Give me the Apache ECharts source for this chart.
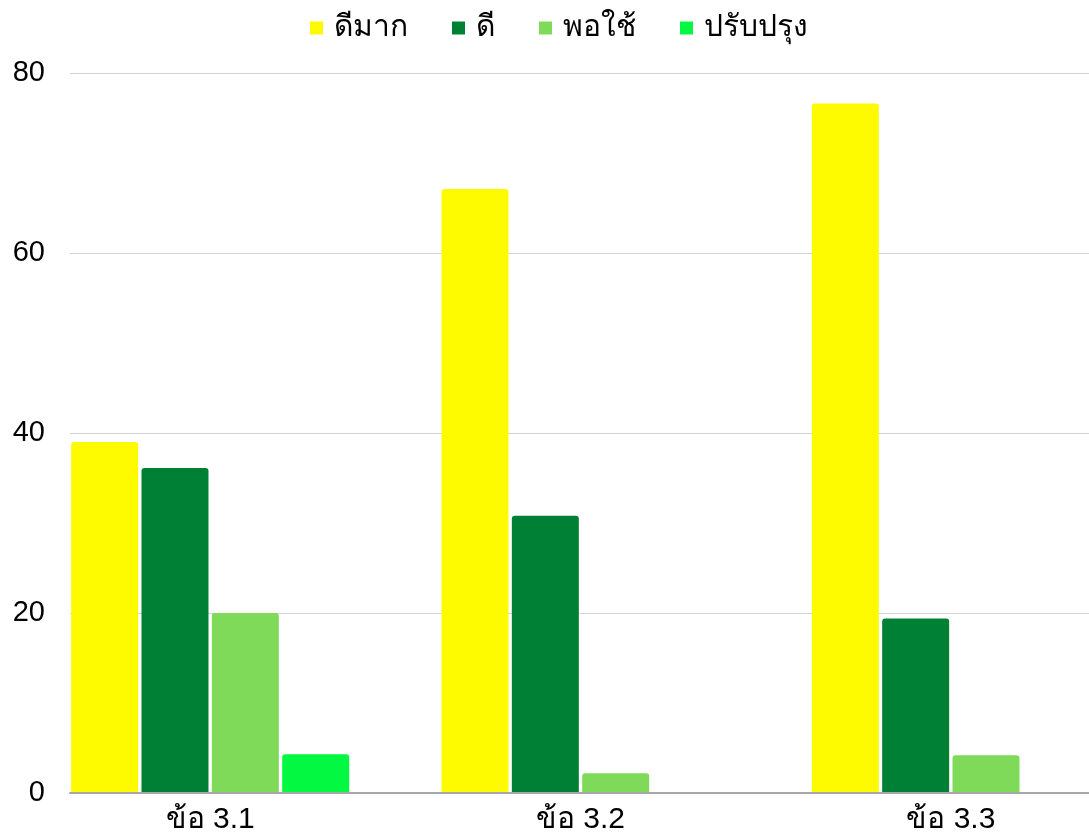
<!DOCTYPE html>
<html>
<head>
<meta charset="utf-8">
<script src="https://cdn.jsdelivr.net/npm/echarts@6/dist/echarts.min.js"></script>
<style>html,body{margin:0;padding:0;background:#fff;overflow:hidden;width:1089px;height:838px}#c{width:1136px;height:838px}</style>
</head>
<body>
<div id="c"></div>
<script>
const categories = ['ข้อ 3.1', 'ข้อ 3.2', 'ข้อ 3.3'];
const seriesNames = ['ดีมาก', 'ดี', 'พอใช้', 'ปรับปรุง'];
const veryGood = [39.0, 67.1, 76.6];
const good = [36.1, 30.8, 19.4];
const fair = [20.0, 2.2, 4.2];
const improve = [4.3, 0, 0];
const yTicks = [0, 20, 40, 60, 80];
const colors = ['#FEFB00', '#008035', '#7FDA59', '#03F841'];

const FONT = 'sans-serif';
const values = [veryGood, good, fair, improve];
const chart = echarts.init(document.getElementById('c'), null, {renderer: 'canvas'});
chart.setOption({
  animation: false,
  backgroundColor: '#fff',
  legend: {
    top: 8, left: 305, itemWidth: 13, itemHeight: 13, itemGap: 44,
    icon: 'rect',
    textStyle: {fontSize: 30, fontWeight: 500, color: '#000', fontFamily: FONT, padding: [0, 0, 0, 6]},
    data: seriesNames
  },
  grid: [
    {left: 70, right: 47, top: 73, bottom: 45},
    {left: 25, right: 0, top: 73, bottom: 45}
  ],
  xAxis: [
    {gridIndex: 0, type: 'category', data: categories, axisLabel: {show: false}, axisTick: {show: false},
     axisLine: {show: true, lineStyle: {color: '#a8a8a8', width: 2}}, z: 5},
    {gridIndex: 1, type: 'category', data: categories, axisTick: {show: false}, axisLine: {show: false},
     axisLabel: {margin: 12, fontSize: 30, fontWeight: 500, color: '#000', fontFamily: FONT}}
  ],
  yAxis: [
    {gridIndex: 0, type: 'value', min: yTicks[0], max: yTicks[yTicks.length-1], interval: 20,
     axisLine: {show: false}, axisTick: {show: false},
     axisLabel: {margin: 25, fontSize: 29, color: '#000', fontFamily: FONT},
     splitLine: {lineStyle: {color: '#d3d3d3', width: 1}}},
    {gridIndex: 1, type: 'value', min: 0, max: 80, show: false, splitLine: {show: false}}
  ],
  series: seriesNames.map((n, i) => ({
    name: n, type: 'bar', xAxisIndex: 1, yAxisIndex: 1,
    data: values[i], barWidth: 67, barGap: '5%',
    itemStyle: {color: colors[i], borderRadius: [3, 3, 0, 0]},
    emphasis: {disabled: true}
  })),
  color: colors
});
</script>
</body>
</html>
